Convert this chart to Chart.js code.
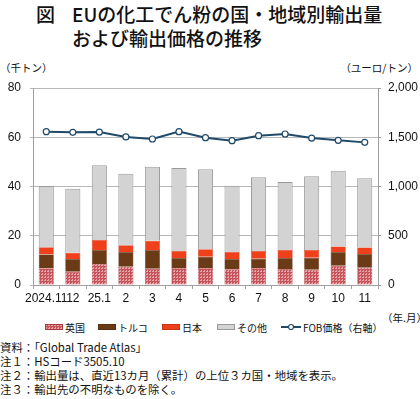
<!DOCTYPE html>
<html>
<head>
<meta charset="utf-8">
<script src="https://cdn.jsdelivr.net/npm/chart.js@4/dist/chart.umd.min.js"></script>
<style>
  body { margin: 0; width: 420px; height: 399px; background: #fff; position: relative; overflow: hidden;
         font-family: "Noto Sans CJK JP", sans-serif; color: #111; }
  .title { position: absolute; left: 0; top: 2px; font-size: 19px; font-weight: 500; line-height: 24px; }
  .title span { position: absolute; white-space: nowrap; }
  .unit { position: absolute; top: 60px; font-size: 10.5px; }
  #chartBox { position: absolute; left: 0; top: 55px; width: 420px; height: 255px; }
  .ym { position: absolute; left: 382px; top: 310px; font-size: 10.5px; white-space: nowrap; }
  #legend { position: absolute; left: 0; top: 320px; width: 420px; height: 14px; font-size: 10px; }
  .item { position: absolute; top: 0; display: flex; align-items: center; height: 14px; white-space: nowrap; }
  .sw { width: 18px; height: 6px; margin-right: 2px; box-sizing: border-box; }
  .notes { position: absolute; left: 0; top: 340px; font-size: 11.4px; line-height: 14px; white-space: nowrap; }
</style>
</head>
<body>
<div class="title">
  <span style="left:36px;top:0">図</span>
  <span style="left:72px;top:0">EUの化工でん粉の国・地域別輸出量</span>
  <span style="left:72px;top:24px">および輸出価格の推移</span>
</div>
<div class="unit" style="left:0">（千トン）</div>
<div class="unit" style="right:2px">（ユーロ/トン）</div>
<div id="chartBox"><canvas id="grafico"></canvas></div>
<div class="ym">（年.月）</div>
<div id="legend"></div>
<div class="notes">
  資料：「Global Trade Atlas」<br>
  注１：HSコード3505.10<br>
  注２：輸出量は、直近13カ月（累計）の上位３カ国・地域を表示。<br>
  注３：輸出先の不明なものを除く。
</div>
<script>
// Dados do gráfico
const meses = ['2024.11', '12', '25.1', '2', '3', '4', '5', '6', '7', '8', '9', '10', '11'];
const nomesSeries = ['英国', 'トルコ', '日本', 'その他'];
const ingles = [6.8, 5.4, 8.5, 7.4, 6.6, 6.9, 6.9, 6.4, 6.9, 6.5, 6.2, 7.8, 7.0];
const turquia = [5.6, 5.2, 5.7, 6.0, 7.6, 4.1, 4.6, 4.2, 3.8, 4.5, 4.9, 5.6, 5.6];
const japao = [2.9, 2.5, 4.1, 2.7, 3.8, 2.8, 3.0, 2.8, 3.1, 3.2, 3.1, 2.2, 2.6];
const outros = [24.9, 26.0, 30.3, 29.1, 30.0, 33.7, 32.5, 26.9, 30.0, 27.6, 30.0, 30.8, 28.2];
const nomeFob = 'FOB価格（右軸）';
const fob = [1557, 1550, 1553, 1503, 1482, 1557, 1496, 1465, 1516, 1533, 1492, 1469, 1448];
const ticksEsq = [0, 20, 40, 60, 80];
const ticksDir = [0, 500, 1000, 1500, 2000];

// Padrão pontilhado do Reino Unido
function criarPadrao() {
    const c = document.createElement('canvas');
    c.width = 3; c.height = 3;
    const g = c.getContext('2d');
    g.fillStyle = '#c6545a';
    g.fillRect(0, 0, 3, 3);
    g.fillStyle = '#e4a4a8';
    g.fillRect(0, 0, 1, 1);
    g.fillRect(0, 2, 1, 1);
    g.fillRect(2, 0, 1, 1);
    return c;
}
const tile = criarPadrao();
const padrao = document.createElement('canvas').getContext('2d').createPattern(tile, 'repeat');

const cores = [padrao, '#6b3a17', '#f0401b', '#d3d3d3'];
const bordas = ['#a8383c', '#5a2f10', '#c8320f', '#9a9a9a'];
const corLinha = '#1f4a6a';

const dadosBarras = [ingles, turquia, japao, outros];

const datasets = dadosBarras.map((d, i) => ({
    type: 'bar',
    label: nomesSeries[i],
    data: d,
    backgroundColor: cores[i],
    borderColor: bordas[i],
    borderWidth: i === 3 ? 1 : 0.5,
    stack: 'vol',
    yAxisID: 'y',
    order: 1,
    barPercentage: 0.57,
    categoryPercentage: 1
}));

datasets.push({
    type: 'line',
    label: nomeFob,
    data: fob,
    yAxisID: 'y1',
    borderColor: corLinha,
    borderWidth: 2,
    pointRadius: 3,
    pointBackgroundColor: '#fff',
    pointBorderColor: corLinha,
    pointBorderWidth: 1.2,
    tension: 0,
    order: 0
});

const fonteNum = { family: '"Liberation Sans", Arial, sans-serif', size: 12 };

new Chart(document.getElementById('grafico'), {
    data: { labels: meses, datasets: datasets },
    options: {
        responsive: true,
        maintainAspectRatio: false,
        animation: false,
        layout: { padding: { top: 33, left: 0, right: 0, bottom: 0 } },
        plugins: { legend: { display: false }, tooltip: { enabled: false } },
        scales: {
            x: {
                stacked: true,
                offset: true,
                grid: { display: true, drawOnChartArea: false, offset: true, tickLength: 4, color: '#a0a0a0' },
                border: { color: '#a0a0a0' },
                ticks: { autoSkip: false, maxRotation: 0, padding: 2, color: '#111', font: fonteNum },
                afterFit: s => { s.height = 25; }
            },
            y: {
                stacked: true,
                min: 0, max: 80,
                afterBuildTicks: s => { s.ticks = ticksEsq.map(v => ({ value: v })); },
                grid: { color: '#b8b8b8', tickLength: 3 },
                border: { color: '#a0a0a0' },
                ticks: { padding: 9, color: '#111', font: fonteNum },
                afterFit: s => { s.width = 33; }
            },
            y1: {
                position: 'right',
                min: 0, max: 2000,
                afterBuildTicks: s => { s.ticks = ticksDir.map(v => ({ value: v })); },
                grid: { drawOnChartArea: false, tickLength: 3, color: '#a0a0a0' },
                border: { color: '#a0a0a0' },
                ticks: { padding: 7, color: '#111', font: fonteNum,
                         callback: v => v.toLocaleString('en-US') },
                afterFit: s => { s.width = 42; }
            }
        }
    }
});

// Legenda manual
const legenda = document.getElementById('legend');
const posicoes = [45, 98, 162, 217];
nomesSeries.forEach((nome, i) => {
    const item = document.createElement('div');
    item.className = 'item';
    item.style.left = posicoes[i] + 'px';
    const sw = document.createElement('div');
    sw.className = 'sw';
    if (i === 0) {
        sw.style.backgroundImage = 'url(' + tile.toDataURL() + ')';
    } else {
        sw.style.background = cores[i];
    }
    sw.style.border = '1px solid ' + bordas[i];
    item.appendChild(sw);
    item.appendChild(document.createTextNode(nome));
    legenda.appendChild(item);
});
const itemLinha = document.createElement('div');
itemLinha.className = 'item';
itemLinha.style.left = '281px';
itemLinha.innerHTML = '<svg width="20" height="8" style="margin-right:2px"><line x1="0" y1="4" x2="20" y2="4" stroke="' + corLinha + '" stroke-width="2"/><circle cx="10" cy="4" r="2.5" fill="#fff" stroke="' + corLinha + '" stroke-width="1.2"/></svg>' + nomeFob;
legenda.appendChild(itemLinha);
</script>
</body>
</html>
